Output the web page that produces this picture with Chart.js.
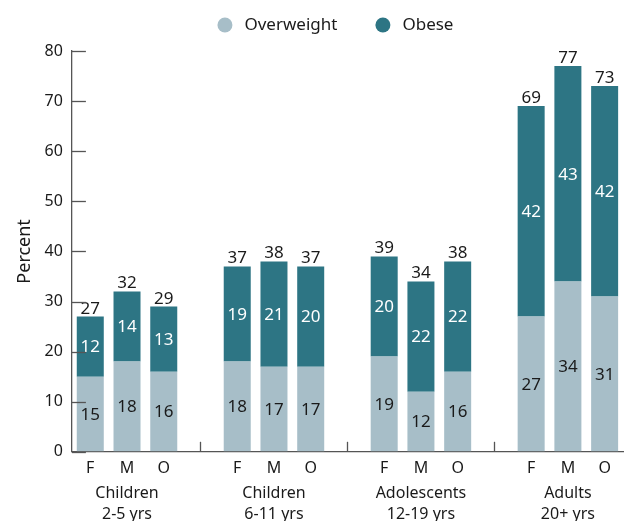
<!DOCTYPE html>
<html lang="en">
<head>
<meta charset="UTF-8">
<script src="https://cdn.jsdelivr.net/npm/chart.js"></script>
<title>Overweight and obesity</title>
<style>
    body { margin: 0; background: #fff; }
    #wrap { width: 626px; height: 521px; }
</style>
</head>
<body>
<div id="wrap"><canvas id="myChart"></canvas></div>
<script>
// data
const groups = [['Children', '2-5 yrs'], ['Children', '6-11 yrs'], ['Adolescents', '12-19 yrs'], ['Adults', '20+ yrs']];
const sexes = ['F', 'M', 'O'];
const overweight = [15, 18, 16, 18, 17, 17, 19, 12, 16, 27, 34, 31];
const obese = [12, 14, 13, 19, 21, 20, 20, 22, 22, 42, 43, 42];
const totals = [27, 32, 29, 37, 38, 37, 39, 34, 38, 69, 77, 73];
const yTicks = [0, 10, 20, 30, 40, 50, 60, 70, 80];

const FONT = '"Noto Sans", sans-serif';
const INK = '#1a1a1a';
const AXIS = '#555';

// 3 bars per group, one empty slot between groups
let labels = [], owData = [], obData = [], totData = [], gapIdx = [], groupMid = [];
let k = 0;
groups.forEach(function(g, gi){
    for (let s = 0; s < sexes.length; s++) {
        labels.push(sexes[s]);
        owData.push(overweight[k]);
        obData.push(obese[k]);
        totData.push(totals[k]);
        if (s == 1) groupMid.push(labels.length - 1);
        k++;
    }
    if (gi < groups.length - 1) {
        labels.push('');
        owData.push(null); obData.push(null); totData.push(null);
        gapIdx.push(labels.length - 1);
    }
});

const extras = {
    id: 'extras',
    afterDatasetsDraw(chart) {
        const ctx = chart.ctx;
        const xs = chart.scales.x, ys = chart.scales.y;
        const area = chart.chartArea;
        ctx.save();

        // numbers inside segments
        ctx.font = '17px ' + FONT;
        ctx.textAlign = 'center';
        ctx.textBaseline = 'middle';
        chart.data.datasets.forEach(function(ds, di){
            chart.getDatasetMeta(di).data.forEach(function(bar, i){
                if (ds.data[i] == null) return;
                ctx.fillStyle = di == 0 ? INK : '#fff';
                ctx.fillText(ds.data[i], bar.x, (bar.y + bar.base) / 2 + 1);
            });
        });

        // totals above the bars
        ctx.textBaseline = 'alphabetic';
        ctx.fillStyle = INK;
        chart.getDatasetMeta(1).data.forEach(function(bar, i){
            if (totData[i] == null) return;
            ctx.fillText(totData[i], bar.x, ys.getPixelForValue(totData[i]) - 3);
        });

        // y ticks pointing into the plot
        ctx.strokeStyle = AXIS;
        ctx.lineWidth = 1.3;
        yTicks.forEach(function(v){
            const py = Math.round(ys.getPixelForValue(v)) + 0.5;
            ctx.beginPath();
            ctx.moveTo(area.left, py);
            ctx.lineTo(area.left + 14, py);
            ctx.stroke();
        });

        // separators between groups
        gapIdx.forEach(function(i){
            const px = Math.round(xs.getPixelForValue(i)) + 0.5;
            ctx.beginPath();
            ctx.moveTo(px, area.bottom);
            ctx.lineTo(px, area.bottom - 10);
            ctx.stroke();
        });

        // group names under the middle bar
        ctx.font = '16px ' + FONT;
        ctx.fillStyle = INK;
        ctx.textBaseline = 'middle';
        groups.forEach(function(g, gi){
            const px = xs.getPixelForValue(groupMid[gi]);
            ctx.fillText(g[0], px, area.bottom + 42);
            ctx.fillText(g[1], px, area.bottom + 63);
        });

        // legend
        ctx.font = '17px ' + FONT;
        ctx.textAlign = 'left';
        const items = chart.data.datasets.map(function(ds){ return {text: ds.label, color: ds.backgroundColor}; });
        const r = 7.5, gapTxt = 12, gapItem = 38;
        let total = 0;
        items.forEach(function(it, i){
            it.w = 2 * r + gapTxt + ctx.measureText(it.text).width;
            total += it.w + (i ? gapItem : 0);
        });
        let lx = (area.left + area.right) / 2 - total / 2 - 12;
        const ly = 25;
        items.forEach(function(it){
            ctx.fillStyle = it.color;
            ctx.beginPath();
            ctx.arc(lx + r, ly, r, 0, Math.PI * 2);
            ctx.fill();
            ctx.fillStyle = INK;
            ctx.fillText(it.text, lx + 2 * r + gapTxt, ly);
            lx += it.w + gapItem;
        });

        ctx.restore();
    }
};

const ctx = document.getElementById('myChart');
new Chart(ctx, {
    type: 'bar',
    data: {
        labels: labels,
        datasets: [
            { label: 'Overweight', data: owData, backgroundColor: '#a7bec8' },
            { label: 'Obese', data: obData, backgroundColor: '#2d7584' }
        ]
    },
    options: {
        responsive: true,
        maintainAspectRatio: false,
        animation: false,
        layout: { padding: { top: 51, left: 10, right: 3, bottom: 36 } },
        datasets: { bar: { categoryPercentage: 1, barPercentage: 0.735 } },
        plugins: {
            legend: { display: false },
            tooltip: { enabled: false }
        },
        scales: {
            x: {
                stacked: true,
                grid: { display: true, drawOnChartArea: false, drawTicks: false },
                border: { display: true, color: AXIS, width: 1.3 },
                ticks: { color: INK, font: { family: FONT, size: 16 }, padding: 7, autoSkip: false, maxRotation: 0 }
            },
            y: {
                stacked: true,
                min: 0, max: 80,
                afterBuildTicks: function(axis){ axis.ticks = yTicks.map(function(v){ return {value: v}; }); },
                grid: { display: true, drawOnChartArea: false, drawTicks: false },
                border: { display: true, color: AXIS, width: 1.3 },
                ticks: { color: INK, font: { family: FONT, size: 16 }, padding: 9 },
                title: { display: true, text: 'Percent', color: INK, font: { family: FONT, size: 18 }, padding: { top: 4, bottom: 0 } }
            }
        }
    },
    plugins: [extras]
});
</script>
</body>
</html>
